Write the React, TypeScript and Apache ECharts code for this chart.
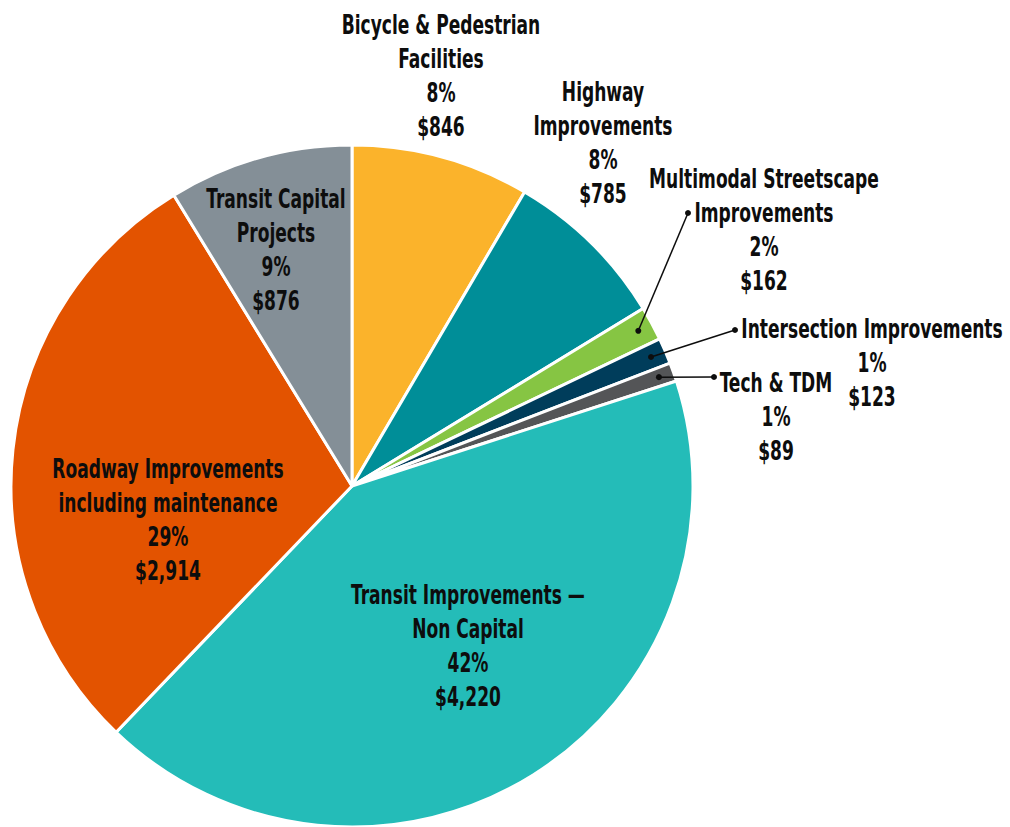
import React, { useEffect, useRef } from "react";
import * as echarts from "echarts";

// ---- data ----
const categories: string[] = [
  "Bicycle & Pedestrian\nFacilities",
  "Highway\nImprovements",
  "Multimodal Streetscape\nImprovements",
  "Intersection Improvements",
  "Tech & TDM",
  "Transit Improvements —\nNon Capital",
  "Roadway Improvements\nincluding maintenance",
  "Transit Capital\nProjects",
];
const amounts: number[] = [846, 785, 162, 123, 89, 4220, 2914, 876];
const colors: string[] = [
  "#FBB32B",
  "#008E98",
  "#86C543",
  "#003D5B",
  "#545557",
  "#24BCB8",
  "#E35300",
  "#848F97",
];

// ---- layout (positions / styles) ----
const CENTER: [number, number] = [352, 486];
const RADIUS = 341;
const labelAnchors: [number, number][] = [
  [441, 76],
  [603, 143],
  [764, 230],
  [872, 363],
  [776, 417],
  [468, 646],
  [168, 520],
  [276, 250],
];
// where the leader line meets the label (null = no leader line)
const leaderEnds: ([number, number] | null)[] = [
  null,
  null,
  [688, 213],
  [735, 330],
  [714, 377],
  null,
  null,
  null,
];
const DOT_RADIUS_FRACTION = 0.955;
const FONT_FAMILY = "'DejaVu Sans Condensed', 'DejaVu Sans', sans-serif";
const FONT_SIZE = 26;
const LINE_HEIGHT = 34;
const TEXT_SCALE_X = 0.73;

const TOTAL = amounts.reduce((a, b) => a + b, 0);

// largest-remainder integer percentages (same rule ECharts uses)
function percents(): number[] {
  const raw = amounts.map((v) => (v / TOTAL) * 100);
  const floors = raw.map((r) => Math.floor(r));
  let left = 100 - floors.reduce((a, b) => a + b, 0);
  const order = raw
    .map((r, i) => ({ i, rem: r - Math.floor(r) }))
    .sort((a, b) => b.rem - a.rem);
  const out = floors.slice();
  for (let k = 0; k < order.length && left > 0; k++, left--) out[order[k].i] += 1;
  return out;
}

function sliceDot(i: number): [number, number] {
  let cum = 0;
  for (let k = 0; k < i; k++) cum += amounts[k];
  const theta = (2 * Math.PI * (cum + amounts[i] / 2)) / TOTAL;
  const r = RADIUS * DOT_RADIUS_FRACTION;
  return [CENTER[0] + r * Math.sin(theta), CENTER[1] - r * Math.cos(theta)];
}

export default function App() {
  const ref = useRef<HTMLDivElement>(null);

  useEffect(() => {
    if (!ref.current) return;
    const chart = echarts.init(ref.current, undefined, { renderer: "svg" });
    const pct = percents();

    const graphics: any[] = [];
    categories.forEach((name, i) => {
      const a = labelAnchors[i];
      graphics.push({
        type: "text",
        x: a[0],
        y: a[1],
        scaleX: TEXT_SCALE_X,
        z: 100,
        style: {
          text: `${name}\n${pct[i]}%\n$${amounts[i].toLocaleString("en-US")}`,
          x: 0,
          y: 0,
          align: "center",
          verticalAlign: "middle",
          fill: "#0d0d0d",
          fontFamily: FONT_FAMILY,
          fontWeight: "bold",
          fontSize: FONT_SIZE,
          lineHeight: LINE_HEIGHT,
        },
      });
      const end = leaderEnds[i];
      if (end) {
        const s = sliceDot(i);
        graphics.push({
          type: "line",
          z: 100,
          shape: { x1: s[0], y1: s[1], x2: end[0], y2: end[1] },
          style: { stroke: "#0d0d0d", lineWidth: 1.5 },
        });
        graphics.push({
          type: "circle",
          z: 101,
          shape: { cx: s[0], cy: s[1], r: 3 },
          style: { fill: "#0d0d0d" },
        });
        graphics.push({
          type: "circle",
          z: 101,
          shape: { cx: end[0], cy: end[1], r: 3 },
          style: { fill: "#0d0d0d" },
        });
      }
    });

    chart.setOption({
      animation: false,
      backgroundColor: "#ffffff",
      graphic: graphics,
      series: [
        {
          type: "pie",
          center: CENTER,
          radius: RADIUS,
          startAngle: 90,
          clockwise: true,
          avoidLabelOverlap: false,
          itemStyle: { borderColor: "#ffffff", borderWidth: 3 },
          emphasis: { disabled: true },
          label: { show: false },
          labelLine: { show: false },
          data: categories.map((name, i) => ({
            name,
            value: amounts[i],
            itemStyle: { color: colors[i] },
          })),
        },
      ],
    });

    return () => chart.dispose();
  }, []);

  return (
    <div
      ref={ref}
      style={{ position: "fixed", left: 0, top: 0, width: 1010, height: 827 }}
    />
  );
}
